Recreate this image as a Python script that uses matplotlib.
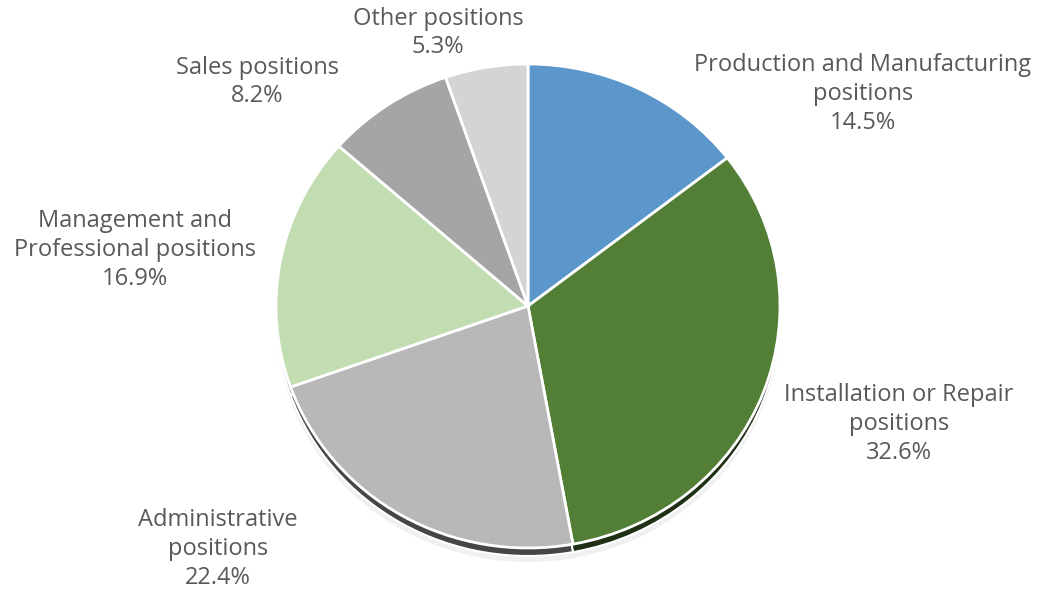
import numpy as np
import matplotlib.pyplot as plt
from matplotlib.colors import to_rgb

# data (clockwise from 12 o'clock)
categories = ['Production and Manufacturing\npositions',
              'Installation or Repair\npositions',
              'Administrative\npositions',
              'Management and\nProfessional positions',
              'Sales positions',
              'Other positions']
shares = [14.5, 32.6, 22.4, 16.9, 8.2, 5.3]
colors = ['#5B97CB', '#527E35', '#B8B8B8', '#C3DDB3', '#A5A5A5', '#D4D4D4']

# label anchors in pixel coords (x, y from top), layout only
label_pos = [(863, 94), (899, 424), (218, 549), (135, 250), (257, 82), (438, 33)]

W, H = 1041, 592
fig = plt.figure(figsize=(W / 100, H / 100), dpi=100)

# pie geometry in pixels
cx, cy, rx, ry = 528, 306, 252, 242
m = 1.1
ax = fig.add_axes([(cx - rx * m) / W, (H - cy - ry * m) / H,
                   2 * rx * m / W, 2 * ry * m / H])

def darker(c, f=0.38):
    r, g, b = to_rgb(c)
    return (r * f, g * f, b * f)

# soft shadow + dark rim below the pie (offset downward)
ax.pie(shares, colors=['#e6e6e6'] * len(shares), startangle=90, counterclock=False,
       radius=1.0, center=(0.0, -14 / ry), wedgeprops=dict(linewidth=0, alpha=0.6))
ax.pie(shares, colors=[darker(c) for c in colors], startangle=90, counterclock=False,
       radius=1.0, center=(0.0, -8 / ry), wedgeprops=dict(linewidth=1.5, edgecolor='white'))
wedges, _ = ax.pie(shares, colors=colors, startangle=90, counterclock=False,
                   radius=1.0, center=(0.0, 0.0),
                   wedgeprops=dict(linewidth=2, edgecolor='white'))

ax.set_aspect('auto')
ax.set_xlim(-m, m)
ax.set_ylim(-m, m)
ax.axis('off')

for name, val, (px, py) in zip(categories, shares, label_pos):
    fig.text(px / W, 1 - py / H, f'{name}\n{val:.1f}%', ha='center', va='center',
             fontsize=17, color='#595959', family='Open Sans', linespacing=1.26)

fig.savefig('out.png', dpi=100)
